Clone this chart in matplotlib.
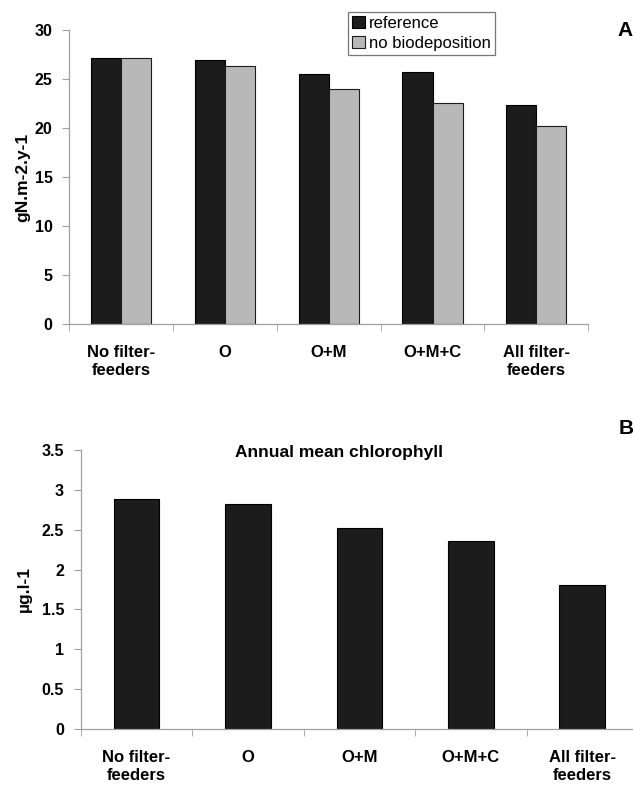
import matplotlib
matplotlib.use("Agg")
import matplotlib.pyplot as plt
import numpy as np

categories = ["No filter-\nfeeders", "O", "O+M", "O+M+C", "All filter-\nfeeders"]
reference = [27.1, 26.95, 25.55, 25.75, 22.3]
no_biodeposition = [27.1, 26.35, 24.0, 22.5, 20.2]
chlorophyll = [2.88, 2.82, 2.52, 2.36, 1.81]

plt.rcParams['font.family'] = ['Liberation Sans', 'DejaVu Sans']

fig = plt.figure(figsize=(6.33, 7.87), dpi=100)
W, H = 633, 787

def add_ax(l, r, t, b):
    return fig.add_axes([l / W, 1 - b / H, (r - l) / W, (b - t) / H])

def style(ax, n):
    for s in ["top", "right"]:
        ax.spines[s].set_visible(False)
    for s in ["left", "bottom"]:
        ax.spines[s].set_color("#a0a0a0")
        ax.spines[s].set_linewidth(0.9)
    ax.set_xlim(0, n)
    x = np.arange(n) + 0.5
    ax.set_xticks(x)
    ax.set_xticklabels(categories, fontsize=12, fontweight="bold", linespacing=1.3)
    ax.set_xticks(np.arange(n + 1), minor=True)
    ax.tick_params(axis="x", which="major", length=0, pad=15)
    ax.tick_params(axis="x", which="minor", length=5, color="#a0a0a0", direction="out")
    ax.tick_params(axis="y", length=5, color="#a0a0a0", labelsize=11.5, pad=7)
    for lab in ax.get_yticklabels():
        lab.set_fontweight("bold")
    return x

# Panel A
ax1 = add_ax(69.4, 588.2, 30, 324)
n = len(categories)
x = np.arange(n) + 0.5
w = 0.29
ax1.bar(x - w / 2, reference, w, color="#1c1c1c", edgecolor="#000000", linewidth=0.8, label="reference")
ax1.bar(x + w / 2, no_biodeposition, w, color="#b8b8b8", edgecolor="#1c1c1c", linewidth=0.8, label="no biodeposition")
ax1.set_ylim(0, 30)
ax1.set_yticks([0, 5, 10, 15, 20, 25, 30])
style(ax1, n)
ax1.set_ylabel("gN.m-2.y-1", fontsize=12.5, fontweight="bold", labelpad=3)
leg = ax1.legend(loc="upper left", bbox_to_anchor=((348 - 69.4) / (588.2 - 69.4), 1 + 18.3 / 294),
                 fontsize=12, frameon=True, fancybox=False, handlelength=0.75, handleheight=0.75,
                 handletextpad=0.25, borderpad=0.25, labelspacing=0.3, borderaxespad=0)
leg.get_frame().set_edgecolor("#555555")
leg.get_frame().set_linewidth(0.9)
fig.text(625 / W, 1 - 30 / H, "A", fontsize=15, fontweight="bold", ha="center", va="center")

# Panel B
ax2 = add_ax(80.7, 638, 450, 729)
ax2.bar(x, chlorophyll, 0.41, color="#1c1c1c", edgecolor="#000000", linewidth=0.8)
ax2.set_ylim(0, 3.5)
ax2.set_yticks([0, 0.5, 1, 1.5, 2, 2.5, 3, 3.5])
ax2.set_yticklabels(["0", "0.5", "1", "1.5", "2", "2.5", "3", "3.5"])
style(ax2, n)
ax2.set_ylabel("µg.l-1", fontsize=12.5, fontweight="bold", labelpad=7)
fig.text(339 / W, 1 - 452 / H, "Annual mean chlorophyll", fontsize=12.5, fontweight="bold", ha="center", va="center")
fig.text(626 / W, 1 - 428 / H, "B", fontsize=15, fontweight="bold", ha="center", va="center")

fig.savefig("out.png", dpi=100)
